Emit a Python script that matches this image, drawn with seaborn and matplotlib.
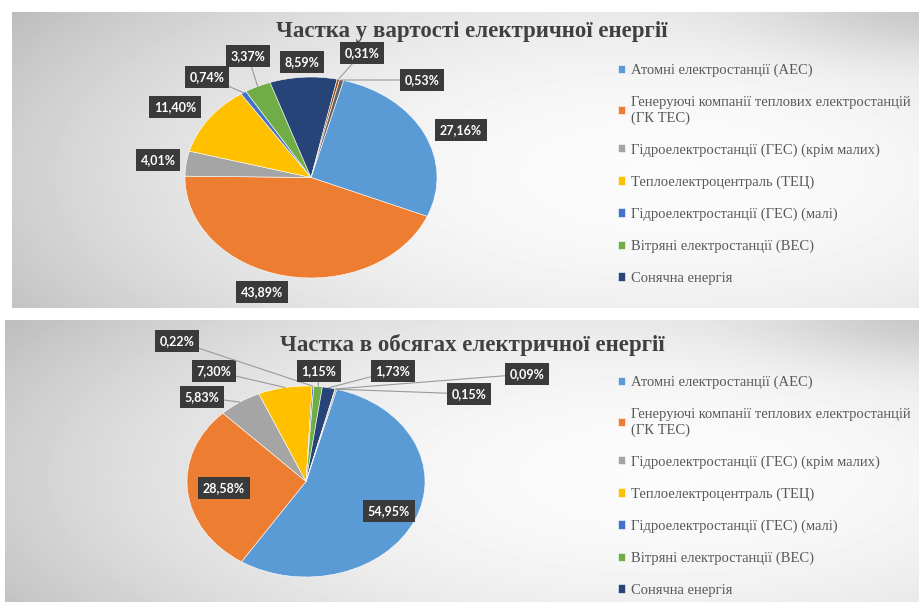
import numpy as np
import matplotlib
matplotlib.use("Agg")
import matplotlib.pyplot as plt
import seaborn as sns

# Data (percent)
legend_labels = [
    "Атомні електростанції (АЕС)",
    "Генеруючі компанії теплових електростанцій\n(ГК ТЕС)",
    "Гідроелектростанції (ГЕС) (крім малих)",
    "Теплоелектроцентраль (ТЕЦ)",
    "Гідроелектростанції (ГЕС) (малі)",
    "Вітряні електростанції (ВЕС)",
    "Сонячна енергія",
]
cost_share = [27.16, 43.89, 4.01, 11.40, 0.74, 3.37, 8.59, 0.31, 0.53]
volume_share = [54.95, 28.58, 5.83, 7.30, 0.22, 1.15, 1.73, 0.09, 0.15]
titles = ["Частка у вартості електричної енергії",
          "Частка в обсягах електричної енергії"]

# Layout (pixels, origin top-left)
W, H = 919, 602
panels = [(12, 12, W, 308), (5, 320, W, H)]
pie_boxes = [(311, 177.5, 126, 100.5), (306, 481.5, 119, 95.5)]
title_y = [32, 345]
legend_y = [58, 370]
label_pos = [
    [(461, 130), (262, 292), (158, 160), (175, 107), (207, 77),
     (248, 56), (302, 62), (362, 53), (422, 80)],
    [(389, 511), (224, 488), (202, 397), (214, 371), (177, 341),
     (319, 371), (393, 371), (527, 374), (469, 394)],
]
with_line = [
    [False, False, False, False, True, True, False, True, True],
    [False, False, True, True, True, True, True, True, True],
]

sns.set_theme(style="white")
plt.rcParams["font.family"] = ["Liberation Serif", "DejaVu Serif"]
# Office-style palette
palette = sns.color_palette(["#5B9BD5", "#ED7D31", "#A5A5A5", "#FFC000", "#4472C4",
                             "#70AD47", "#264478", "#9E480E", "#636363"])


def panel_shade(h, w):
    # light area on the right, greyer towards the left edge
    yy, xx = np.mgrid[0:h, 0:w]
    dx = (xx - 0.72 * w) / (0.75 * w)
    dy = (yy - 0.55 * h) / (0.9 * h)
    r2 = np.clip(dx ** 2 + dy ** 2, 0, 1.5)
    v = 0.985 - 0.19 * r2
    # darker band in the top right corner
    v -= 0.10 * np.exp(-((xx - w) / 160.0) ** 2 - (yy / 45.0) ** 2)
    return v


fig = plt.figure(figsize=(W / 100, H / 100), dpi=100)
bg = fig.add_axes([0, 0, 1, 1])
img = np.ones((H, W))
for x0, y0, x1, y1 in panels:
    img[y0:y1, x0:x1] = panel_shade(y1 - y0, x1 - x0)
bg.imshow(img, cmap="gray", vmin=0, vmax=1, extent=(0, W, H, 0),
          aspect="auto", interpolation="bilinear")
bg.set_xlim(0, W)
bg.set_ylim(H, 0)
bg.axis("off")

for k, share in enumerate([cost_share, volume_share]):
    cx, cy, rx, ry = pie_boxes[k]
    ax = fig.add_axes([(cx - rx) / W, 1 - (cy + ry) / H, 2 * rx / W, 2 * ry / H])
    wedges, _ = ax.pie(share, colors=palette, startangle=75, counterclock=False,
                       wedgeprops=dict(linewidth=0.4, edgecolor="white"))
    ax.set_aspect("auto")
    ax.set_xlim(-1, 1)
    ax.set_ylim(-1, 1)
    ax.axis("off")

    # data labels in dark boxes
    for w, v, (tx, ty), line in zip(wedges, share, label_pos[k], with_line[k]):
        mid = np.deg2rad((w.theta1 + w.theta2) / 2)
        arrow = dict(arrowstyle="-", color="#9a9a9a", lw=0.8,
                     shrinkA=0, shrinkB=0) if line else None
        ax.annotate(f"{v:.2f}".replace(".", ",") + "%",
                    xy=(np.cos(mid), np.sin(mid)),
                    xytext=(tx, H - ty), textcoords="figure pixels",
                    ha="center", va="center", color="white",
                    fontsize=9, fontweight="bold", family="Lato",
                    bbox=dict(boxstyle="square,pad=0.38", fc="#3a3a3a", ec="none"),
                    arrowprops=arrow, annotation_clip=False, zorder=5)

    fig.text(472 / W, 1 - title_y[k] / H, titles[k], ha="center", va="center",
             fontsize=16.5, fontweight="bold", color="#404040")

    fig.legend(wedges[:7], legend_labels, loc="upper left",
               bbox_to_anchor=(612 / W, 1 - legend_y[k] / H),
               frameon=False, fontsize=10.5, labelcolor="#595959",
               handlelength=0.5, handleheight=0.5, handletextpad=0.4,
               labelspacing=1.28, borderaxespad=0)

fig.savefig("out.png", dpi=100)
plt.close(fig)
